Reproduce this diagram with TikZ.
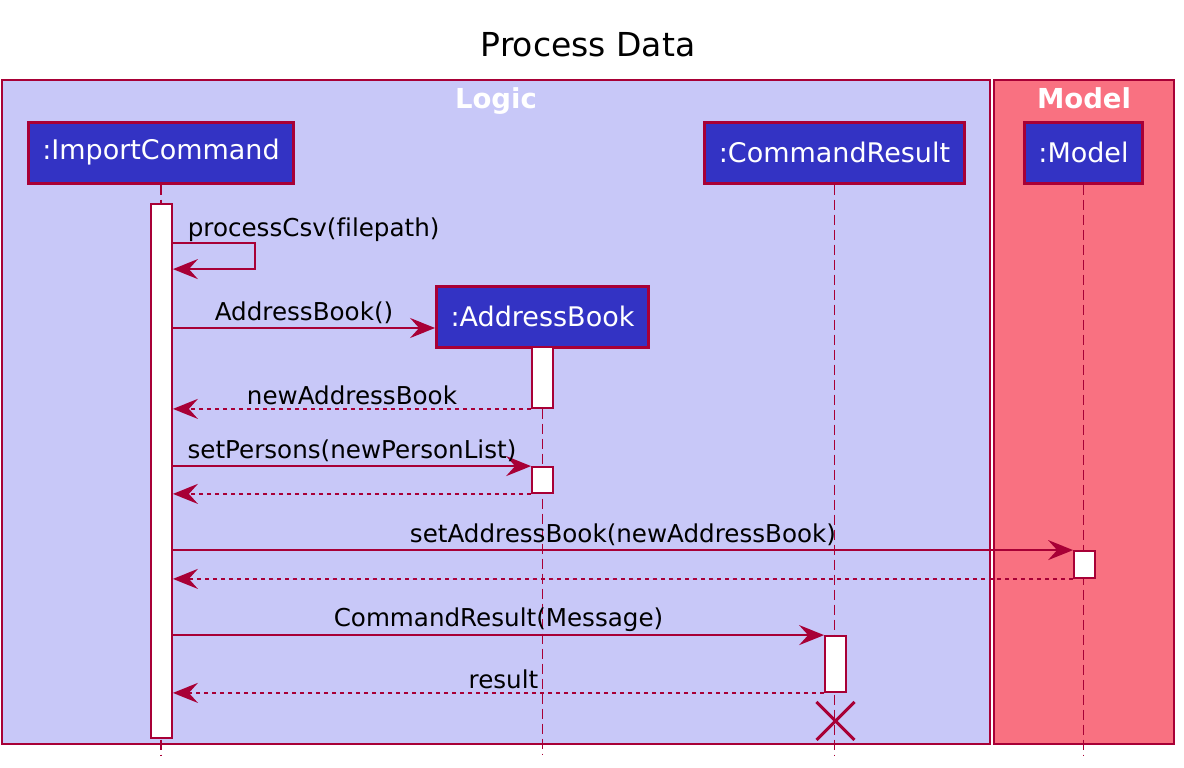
\documentclass[tikz,border=0pt]{standalone}
\usepackage{fontspec}
\setmainfont{DejaVu Sans}[Ligatures=NoCommon]
\usepackage{tikz}
\usetikzlibrary{arrows.meta,positioning,calc}
\definecolor{seq@line}{RGB}{168,0,54}
\definecolor{seq@logic}{RGB}{200,200,248}
\definecolor{seq@model}{RGB}{249,113,129}
\definecolor{seq@part}{RGB}{51,51,196}
\tikzset{
  seq/.style={
    x=1pt, y=-1pt,
    >={Stealth[length=25pt,width=20pt,inset=9pt]},
    line width=1.8pt,
    every node/.style={font=\fontsize{24.6}{28}\selectfont}
  },
  groupbox/.style={                % package frame
    draw=seq@line, line width=1.8pt,
    inner sep=0pt
  },
  grouptitle/.style={
    font=\fontsize{27.5}{30}\selectfont\bfseries,
    text=white, inner sep=0pt
  },
  part/.style={                    % participant head
    draw=seq@line, line width=3pt,
    fill=seq@part, text=white,
    inner xsep=14pt, inner ysep=0pt,
    minimum height=61pt,
    font=\fontsize{27}{30}\selectfont
  },
  actbar/.style={                  % activation bar
    draw=seq@line, line width=1.8pt,
    fill=white, inner sep=0pt,
    minimum width=21pt
  },
  lifeline/.style={draw=seq@line, line width=1.8pt, dash pattern=on 10pt off 5pt},
  msg/.style={->, draw=seq@line, line width=1.8pt},
  ret/.style={->, draw=seq@line, line width=1.8pt, dash pattern=on 4pt off 4pt},
  msglabel/.style={above, inner sep=3pt, text=black},
  destroy/.style={draw=seq@line, line width=3pt}
}
\begin{document}
\begin{tikzpicture}[seq]
\useasboundingbox (0,0) rectangle (1184,768);

% Title
\node[font=\fontsize{33}{36}\selectfont] (title) at (588,45) {Process Data};

% Package frames
\node[groupbox, fill=seq@logic, minimum width=988pt, minimum height=664pt]
  (logic) at (496,412) {};
\node[groupbox, fill=seq@model, minimum width=180pt, minimum height=664pt]
  (model) at (1084,412) {};
\node[grouptitle, below=8pt of logic.north] (logictitle) {Logic};
\node[grouptitle, below=8pt of model.north] (modeltitle) {Model};

% Participants
\node[part] (imp) at (161,152.5) {:ImportCommand};
\node[part] (cres) at (834.5,152.5) {:CommandResult};
\node[part] (mdl) at (1083.5,152.5) {:Model};
\node[part] (abook) at (542.5,316.5) {:AddressBook};

% Lifeline ends
\coordinate (impend) at (161,755);
\coordinate (abookend) at (542.5,755);
\coordinate (cresend) at (834.5,755);
\coordinate (mdlend) at (1083.5,755);

\draw[lifeline] (imp.south) -- (impend);
\draw[lifeline] (abook.south) -- (abookend);
\draw[lifeline] (cres.south) -- (cresend);
\draw[lifeline] (mdl.south) -- (mdlend);

% Activation bars
\node[actbar, minimum height=534pt] (impact) at (161.5,471) {};
\node[actbar, minimum height=61pt] (abact1) at (542.5,377.5) {};
\node[actbar, minimum height=26pt] (abact2) at (542.5,480) {};
\node[actbar, minimum height=27pt] (mdlact) at (1084.5,564.5) {};
\node[actbar, minimum height=56pt] (cresact) at (835.5,664) {};

% processCsv self call
\draw[msg] ([yshift=-40pt]impact.north east) -- ++(82,0) -- ++(0,26) -- ++(-82,0);
\node[anchor=base west, inner sep=0pt] (csvlabel)
  at ([xshift=14pt,yshift=-33pt]impact.north east) {processCsv(filepath)};

% Create the address book
\coordinate (abookin) at ([yshift=-11.5pt]abook.west);
\draw[msg] (impact.east |- abookin) --
  node[msglabel] {AddressBook()} (abookin);
\draw[ret] (abact1.south west) --
  node[msglabel] {newAddressBook} (impact.east |- abact1.south);

% Set persons
\draw[msg] (impact.east |- abact2.north) --
  node[msglabel] {setPersons(newPersonList)} (abact2.north west);
\draw[ret] (abact2.south west) -- (impact.east |- abact2.south);

% Update the model
\draw[msg] (impact.east |- mdlact.north) --
  node[msglabel] {setAddressBook(newAddressBook)} (mdlact.north west);
\draw[ret] (mdlact.south west) -- (impact.east |- mdlact.south);

% Command result
\draw[msg] (impact.east |- cresact.north) --
  node[msglabel] {CommandResult(Message)} (cresact.north west);
\draw[ret] (cresact.south west) --
  node[msglabel, xshift=5pt] {result} (impact.east |- cresact.south);

% Destroy the result
\coordinate (xmark) at ([yshift=-28pt]cresact.south);
\draw[destroy] (xmark) +(-19,-19) -- +(19,19);
\draw[destroy] (xmark) +(-19,19) -- +(19,-19);

\end{tikzpicture}
\end{document}
